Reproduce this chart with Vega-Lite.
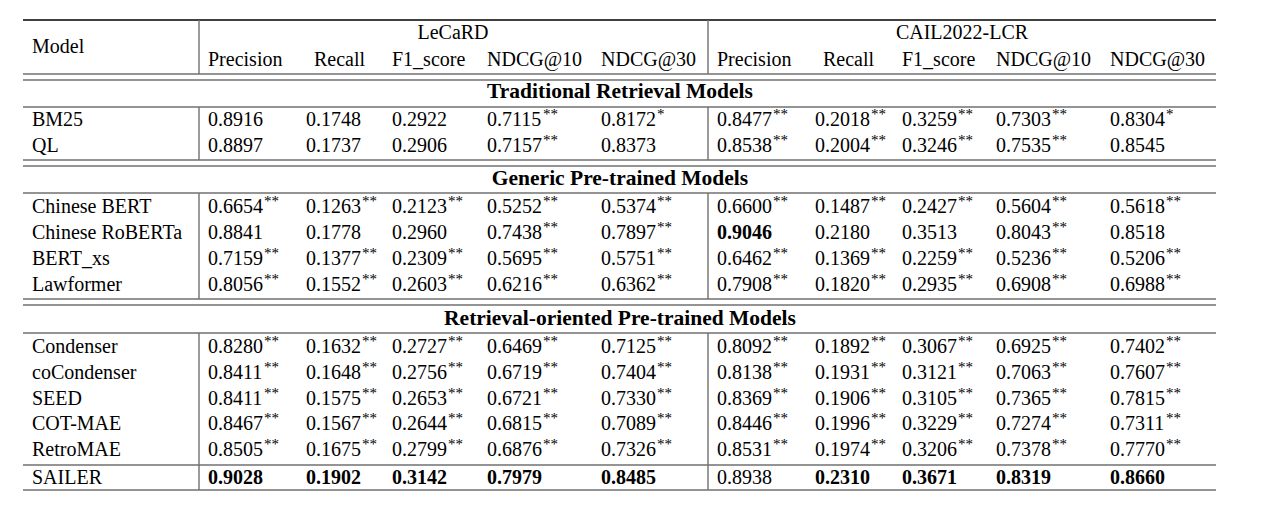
{
  "$schema": "https://vega.github.io/schema/vega-lite/v6.json",
  "width": 1267,
  "height": 510,
  "padding": 0,
  "autosize": "none",
  "background": "white",
  "config": {"view": {"stroke": null}, "text": {"font": "Liberation Serif", "fontSize": 20, "color": "#000", "baseline": "middle"}},
  "datasets": {
    "rules": [
      {"c": 0, "c2": 19, "r": 0, "r2": 0, "k": "top"},
      {"c": 0, "c2": 19, "r": 4, "r2": 4, "k": "mid"},
      {"c": 0, "c2": 19, "r": 5, "r2": 5, "k": "mid"},
      {"c": 0, "c2": 19, "r": 7, "r2": 7, "k": "mid"},
      {"c": 0, "c2": 19, "r": 10, "r2": 10, "k": "mid"},
      {"c": 0, "c2": 19, "r": 11, "r2": 11, "k": "mid"},
      {"c": 0, "c2": 19, "r": 13, "r2": 13, "k": "mid"},
      {"c": 0, "c2": 19, "r": 18, "r2": 18, "k": "mid"},
      {"c": 0, "c2": 19, "r": 19, "r2": 19, "k": "mid"},
      {"c": 0, "c2": 19, "r": 21, "r2": 21, "k": "mid"},
      {"c": 0, "c2": 19, "r": 27, "r2": 27, "k": "mid"},
      {"c": 0, "c2": 19, "r": 29, "r2": 29, "k": "mid"},
      {"c": 2, "c2": 2, "r": 0, "r2": 4, "k": "mid"},
      {"c": 2, "c2": 2, "r": 7, "r2": 10, "k": "mid"},
      {"c": 2, "c2": 2, "r": 13, "r2": 18, "k": "mid"},
      {"c": 2, "c2": 2, "r": 21, "r2": 29, "k": "mid"},
      {"c": 11, "c2": 11, "r": 0, "r2": 4, "k": "mid"},
      {"c": 11, "c2": 11, "r": 7, "r2": 10, "k": "mid"},
      {"c": 11, "c2": 11, "r": 13, "r2": 18, "k": "mid"},
      {"c": 11, "c2": 11, "r": 21, "r2": 29, "k": "mid"}
    ],
    "labels": [
      {"c": 7, "r": 1, "t": "LeCaRD", "a": "center"},
      {"c": 16, "r": 1, "t": "CAIL2022-LCR", "a": "center"},
      {"c": 1, "r": 2, "t": "Model", "a": "left"},
      {"c": 3, "r": 3, "t": "Precision", "a": "left"},
      {"c": 5, "r": 3, "t": "Recall", "a": "left"},
      {"c": 6, "r": 3, "t": "F1_score", "a": "left"},
      {"c": 8, "r": 3, "t": "NDCG@10", "a": "left"},
      {"c": 9, "r": 3, "t": "NDCG@30", "a": "left"},
      {"c": 12, "r": 3, "t": "Precision", "a": "left"},
      {"c": 14, "r": 3, "t": "Recall", "a": "left"},
      {"c": 15, "r": 3, "t": "F1_score", "a": "left"},
      {"c": 17, "r": 3, "t": "NDCG@10", "a": "left"},
      {"c": 18, "r": 3, "t": "NDCG@30", "a": "left"},
      {"c": 10, "r": 6, "t": "Traditional Retrieval Models", "a": "section"},
      {"c": 10, "r": 12, "t": "Generic Pre-trained Models", "a": "section"},
      {"c": 10, "r": 20, "t": "Retrieval-oriented Pre-trained Models", "a": "section"},
      {"c": 1, "r": 8, "t": "BM25", "a": "left"},
      {"c": 1, "r": 9, "t": "QL", "a": "left"},
      {"c": 1, "r": 14, "t": "Chinese BERT", "a": "left"},
      {"c": 1, "r": 15, "t": "Chinese RoBERTa", "a": "left"},
      {"c": 1, "r": 16, "t": "BERT_xs", "a": "left"},
      {"c": 1, "r": 17, "t": "Lawformer", "a": "left"},
      {"c": 1, "r": 22, "t": "Condenser", "a": "left"},
      {"c": 1, "r": 23, "t": "coCondenser", "a": "left"},
      {"c": 1, "r": 24, "t": "SEED", "a": "left"},
      {"c": 1, "r": 25, "t": "COT-MAE", "a": "left"},
      {"c": 1, "r": 26, "t": "RetroMAE", "a": "left"},
      {"c": 1, "r": 28, "t": "SAILER", "a": "left"}
    ],
    "vals": [
      {"r": 8, "c": 3, "v": 0.8916, "s": ""},
      {"r": 8, "c": 4, "v": 0.1748, "s": ""},
      {"r": 8, "c": 6, "v": 0.2922, "s": ""},
      {"r": 8, "c": 8, "v": 0.7115, "s": "**"},
      {"r": 8, "c": 9, "v": 0.8172, "s": "*"},
      {"r": 8, "c": 12, "v": 0.8477, "s": "**"},
      {"r": 8, "c": 13, "v": 0.2018, "s": "**"},
      {"r": 8, "c": 15, "v": 0.3259, "s": "**"},
      {"r": 8, "c": 17, "v": 0.7303, "s": "**"},
      {"r": 8, "c": 18, "v": 0.8304, "s": "*"},
      {"r": 9, "c": 3, "v": 0.8897, "s": ""},
      {"r": 9, "c": 4, "v": 0.1737, "s": ""},
      {"r": 9, "c": 6, "v": 0.2906, "s": ""},
      {"r": 9, "c": 8, "v": 0.7157, "s": "**"},
      {"r": 9, "c": 9, "v": 0.8373, "s": ""},
      {"r": 9, "c": 12, "v": 0.8538, "s": "**"},
      {"r": 9, "c": 13, "v": 0.2004, "s": "**"},
      {"r": 9, "c": 15, "v": 0.3246, "s": "**"},
      {"r": 9, "c": 17, "v": 0.7535, "s": "**"},
      {"r": 9, "c": 18, "v": 0.8545, "s": ""},
      {"r": 14, "c": 3, "v": 0.6654, "s": "**"},
      {"r": 14, "c": 4, "v": 0.1263, "s": "**"},
      {"r": 14, "c": 6, "v": 0.2123, "s": "**"},
      {"r": 14, "c": 8, "v": 0.5252, "s": "**"},
      {"r": 14, "c": 9, "v": 0.5374, "s": "**"},
      {"r": 14, "c": 12, "v": 0.66, "s": "**"},
      {"r": 14, "c": 13, "v": 0.1487, "s": "**"},
      {"r": 14, "c": 15, "v": 0.2427, "s": "**"},
      {"r": 14, "c": 17, "v": 0.5604, "s": "**"},
      {"r": 14, "c": 18, "v": 0.5618, "s": "**"},
      {"r": 15, "c": 3, "v": 0.8841, "s": ""},
      {"r": 15, "c": 4, "v": 0.1778, "s": ""},
      {"r": 15, "c": 6, "v": 0.296, "s": ""},
      {"r": 15, "c": 8, "v": 0.7438, "s": "**"},
      {"r": 15, "c": 9, "v": 0.7897, "s": "**"},
      {"r": 15, "c": 12, "v": 0.9046, "s": "", "b": 1},
      {"r": 15, "c": 13, "v": 0.218, "s": ""},
      {"r": 15, "c": 15, "v": 0.3513, "s": ""},
      {"r": 15, "c": 17, "v": 0.8043, "s": "**"},
      {"r": 15, "c": 18, "v": 0.8518, "s": ""},
      {"r": 16, "c": 3, "v": 0.7159, "s": "**"},
      {"r": 16, "c": 4, "v": 0.1377, "s": "**"},
      {"r": 16, "c": 6, "v": 0.2309, "s": "**"},
      {"r": 16, "c": 8, "v": 0.5695, "s": "**"},
      {"r": 16, "c": 9, "v": 0.5751, "s": "**"},
      {"r": 16, "c": 12, "v": 0.6462, "s": "**"},
      {"r": 16, "c": 13, "v": 0.1369, "s": "**"},
      {"r": 16, "c": 15, "v": 0.2259, "s": "**"},
      {"r": 16, "c": 17, "v": 0.5236, "s": "**"},
      {"r": 16, "c": 18, "v": 0.5206, "s": "**"},
      {"r": 17, "c": 3, "v": 0.8056, "s": "**"},
      {"r": 17, "c": 4, "v": 0.1552, "s": "**"},
      {"r": 17, "c": 6, "v": 0.2603, "s": "**"},
      {"r": 17, "c": 8, "v": 0.6216, "s": "**"},
      {"r": 17, "c": 9, "v": 0.6362, "s": "**"},
      {"r": 17, "c": 12, "v": 0.7908, "s": "**"},
      {"r": 17, "c": 13, "v": 0.182, "s": "**"},
      {"r": 17, "c": 15, "v": 0.2935, "s": "**"},
      {"r": 17, "c": 17, "v": 0.6908, "s": "**"},
      {"r": 17, "c": 18, "v": 0.6988, "s": "**"},
      {"r": 22, "c": 3, "v": 0.828, "s": "**"},
      {"r": 22, "c": 4, "v": 0.1632, "s": "**"},
      {"r": 22, "c": 6, "v": 0.2727, "s": "**"},
      {"r": 22, "c": 8, "v": 0.6469, "s": "**"},
      {"r": 22, "c": 9, "v": 0.7125, "s": "**"},
      {"r": 22, "c": 12, "v": 0.8092, "s": "**"},
      {"r": 22, "c": 13, "v": 0.1892, "s": "**"},
      {"r": 22, "c": 15, "v": 0.3067, "s": "**"},
      {"r": 22, "c": 17, "v": 0.6925, "s": "**"},
      {"r": 22, "c": 18, "v": 0.7402, "s": "**"},
      {"r": 23, "c": 3, "v": 0.8411, "s": "**"},
      {"r": 23, "c": 4, "v": 0.1648, "s": "**"},
      {"r": 23, "c": 6, "v": 0.2756, "s": "**"},
      {"r": 23, "c": 8, "v": 0.6719, "s": "**"},
      {"r": 23, "c": 9, "v": 0.7404, "s": "**"},
      {"r": 23, "c": 12, "v": 0.8138, "s": "**"},
      {"r": 23, "c": 13, "v": 0.1931, "s": "**"},
      {"r": 23, "c": 15, "v": 0.3121, "s": "**"},
      {"r": 23, "c": 17, "v": 0.7063, "s": "**"},
      {"r": 23, "c": 18, "v": 0.7607, "s": "**"},
      {"r": 24, "c": 3, "v": 0.8411, "s": "**"},
      {"r": 24, "c": 4, "v": 0.1575, "s": "**"},
      {"r": 24, "c": 6, "v": 0.2653, "s": "**"},
      {"r": 24, "c": 8, "v": 0.6721, "s": "**"},
      {"r": 24, "c": 9, "v": 0.733, "s": "**"},
      {"r": 24, "c": 12, "v": 0.8369, "s": "**"},
      {"r": 24, "c": 13, "v": 0.1906, "s": "**"},
      {"r": 24, "c": 15, "v": 0.3105, "s": "**"},
      {"r": 24, "c": 17, "v": 0.7365, "s": "**"},
      {"r": 24, "c": 18, "v": 0.7815, "s": "**"},
      {"r": 25, "c": 3, "v": 0.8467, "s": "**"},
      {"r": 25, "c": 4, "v": 0.1567, "s": "**"},
      {"r": 25, "c": 6, "v": 0.2644, "s": "**"},
      {"r": 25, "c": 8, "v": 0.6815, "s": "**"},
      {"r": 25, "c": 9, "v": 0.7089, "s": "**"},
      {"r": 25, "c": 12, "v": 0.8446, "s": "**"},
      {"r": 25, "c": 13, "v": 0.1996, "s": "**"},
      {"r": 25, "c": 15, "v": 0.3229, "s": "**"},
      {"r": 25, "c": 17, "v": 0.7274, "s": "**"},
      {"r": 25, "c": 18, "v": 0.7311, "s": "**"},
      {"r": 26, "c": 3, "v": 0.8505, "s": "**"},
      {"r": 26, "c": 4, "v": 0.1675, "s": "**"},
      {"r": 26, "c": 6, "v": 0.2799, "s": "**"},
      {"r": 26, "c": 8, "v": 0.6876, "s": "**"},
      {"r": 26, "c": 9, "v": 0.7326, "s": "**"},
      {"r": 26, "c": 12, "v": 0.8531, "s": "**"},
      {"r": 26, "c": 13, "v": 0.1974, "s": "**"},
      {"r": 26, "c": 15, "v": 0.3206, "s": "**"},
      {"r": 26, "c": 17, "v": 0.7378, "s": "**"},
      {"r": 26, "c": 18, "v": 0.777, "s": "**"},
      {"r": 28, "c": 3, "v": 0.9028, "s": "", "b": 1},
      {"r": 28, "c": 4, "v": 0.1902, "s": "", "b": 1},
      {"r": 28, "c": 6, "v": 0.3142, "s": "", "b": 1},
      {"r": 28, "c": 8, "v": 0.7979, "s": "", "b": 1},
      {"r": 28, "c": 9, "v": 0.8485, "s": "", "b": 1},
      {"r": 28, "c": 12, "v": 0.8938, "s": ""},
      {"r": 28, "c": 13, "v": 0.231, "s": "", "b": 1},
      {"r": 28, "c": 15, "v": 0.3671, "s": "", "b": 1},
      {"r": 28, "c": 17, "v": 0.8319, "s": "", "b": 1},
      {"r": 28, "c": 18, "v": 0.866, "s": "", "b": 1}
    ]
  },
  "encoding": {
    "x": {"field": "c", "type": "quantitative", "axis": null,
      "scale": {"domain": [0,1,2,3,4,5,6,7,8,9,10,11,12,13,14,15,16,17,18,19],
        "range": [23,32,199,208,306,314,392,453,487,601,620,708,717,815,823,902,962,996,1110,1216],
        "nice": false, "zero": false}},
    "y": {"field": "r", "type": "quantitative", "axis": null,
      "scale": {"domain": [0,1,2,3,4,5,6,7,8,9,10,11,12,13,14,15,16,17,18,19,20,21,22,23,24,25,26,27,28,29],
        "range": [20,33,47,60,74,80,92,107,120,146,160,166,179,193,207,233,259,285,299,305,319,333,347,373,399,424,450,465,478,490],
        "nice": false, "zero": false}}
  },
  "layer": [
    {
      "data": {"name": "rules"},
      "mark": {"type": "rule", "strokeWidth": 1.4},
      "encoding": {
        "x2": {"field": "c2"},
        "y2": {"field": "r2"},
        "color": {"field": "k", "type": "nominal", "legend": null,
          "scale": {"domain": ["top", "mid"], "range": ["#000000", "#707070"]}}
      }
    },
    {
      "data": {"name": "labels"},
      "transform": [{"filter": "datum.a === 'left'"}],
      "mark": {"type": "text", "align": "left"},
      "encoding": {"text": {"field": "t"}}
    },
    {
      "data": {"name": "labels"},
      "transform": [{"filter": "datum.a === 'center'"}],
      "mark": {"type": "text", "align": "center"},
      "encoding": {"text": {"field": "t"}}
    },
    {
      "data": {"name": "labels"},
      "transform": [{"filter": "datum.a === 'section'"}],
      "mark": {"type": "text", "align": "center", "fontWeight": "bold", "fontSize": 21.5},
      "encoding": {"text": {"field": "t"}}
    },
    {
      "data": {"name": "vals"},
      "transform": [{"filter": "!datum.b"}],
      "mark": {"type": "text", "align": "left"},
      "encoding": {"text": {"field": "v", "type": "quantitative", "format": ".4f"}}
    },
    {
      "data": {"name": "vals"},
      "transform": [{"filter": "datum.b"}],
      "mark": {"type": "text", "align": "left", "fontWeight": "bold"},
      "encoding": {"text": {"field": "v", "type": "quantitative", "format": ".4f"}}
    },
    {
      "data": {"name": "vals"},
      "transform": [{"filter": "datum.s !== ''"}],
      "mark": {"type": "text", "align": "left", "fontSize": 15, "dx": 56, "dy": -6},
      "encoding": {"text": {"field": "s"}}
    }
  ]
}
